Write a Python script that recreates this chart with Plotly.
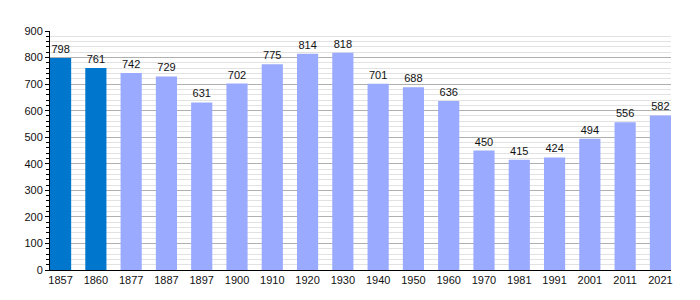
import plotly.graph_objects as go

years = ["1857", "1860", "1877", "1887", "1897", "1900", "1910", "1920", "1930",
         "1940", "1950", "1960", "1970", "1981", "1991", "2001", "2011", "2021"]
population = [798, 761, 742, 729, 631, 702, 775, 814, 818,
              701, 688, 636, 450, 415, 424, 494, 556, 582]
dark_years = ["1857", "1860"]

colors = ["#0077cc" if y in dark_years else "#99aaff" for y in years]

fig = go.Figure(go.Bar(
    x=years, y=population, marker=dict(color=colors, line=dict(width=0)),
    width=0.6, text=[str(v) for v in population], textposition="outside",
    textfont=dict(family="Liberation Sans, Arial, sans-serif", size=11, color="#111"),
    cliponaxis=False,
))

fig.update_layout(
    width=700, height=300,
    margin=dict(l=50, r=29, t=31, b=30),
    plot_bgcolor="white", paper_bgcolor="white",
    showlegend=False,
    font=dict(family="Liberation Sans, Arial, sans-serif", size=11, color="#111"),
    xaxis=dict(type="category", range=[-0.3, 17.3], showgrid=False,
               showline=True, linecolor="black", linewidth=1, ticks="",
               tickfont=dict(size=11), fixedrange=True),
    yaxis=dict(range=[0, 900], dtick=100, showgrid=True, gridcolor="#b0b0b0",
               gridwidth=1, showline=True, linecolor="black", linewidth=1,
               ticks="outside", ticklen=4, tickcolor="black",
               minor=dict(dtick=20, showgrid=True, gridcolor="#e2e2e2",
                          ticks="outside", ticklen=3, tickcolor="black"),
               zeroline=False, tickfont=dict(size=11)),
)

fig.write_html("out.html")
